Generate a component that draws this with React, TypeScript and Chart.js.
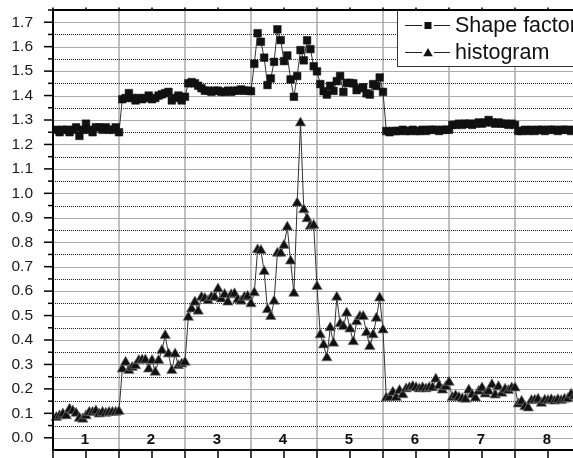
import React, { useEffect, useRef } from "react";
import { Chart, registerables } from "chart.js";

Chart.register(...registerables);

const segmentLabels = ["1", "2", "3", "4", "5", "6", "7", "8"];
const pointsPerSegment = 20;
const yTickValues = [0.0, 0.1, 0.2, 0.3, 0.4, 0.5, 0.6, 0.7, 0.8, 0.9, 1.0, 1.1, 1.2, 1.3, 1.4, 1.5, 1.6, 1.7];
const seriesNames = ["Shape factor", "histogram"];

const shapeFactor = [
  // 1
  1.26, 1.25, 1.26, 1.26, 1.25, 1.26, 1.27, 1.235, 1.26, 1.285, 1.26, 1.25, 1.27, 1.27, 1.26, 1.27, 1.26, 1.26, 1.27, 1.25,
  // 2
  1.385, 1.39, 1.41, 1.39, 1.38, 1.39, 1.385, 1.39, 1.40, 1.385, 1.39, 1.40, 1.405, 1.41, 1.415, 1.38, 1.39, 1.40, 1.38, 1.395,
  // 3
  1.45, 1.455, 1.45, 1.44, 1.43, 1.42, 1.42, 1.415, 1.42, 1.42, 1.415, 1.415, 1.42, 1.415, 1.42, 1.42, 1.425, 1.42, 1.42, 1.418,
  // 4
  1.53, 1.655, 1.62, 1.555, 1.443, 1.47, 1.538, 1.671, 1.627, 1.541, 1.564, 1.466, 1.395, 1.48, 1.586, 1.544, 1.626, 1.59, 1.52, 1.499,
  // 5
  1.447, 1.418, 1.404, 1.44, 1.419, 1.459, 1.48, 1.415, 1.452, 1.452, 1.45, 1.422, 1.43, 1.434, 1.409, 1.404, 1.447, 1.439, 1.474, 1.415,
  // 6
  1.255, 1.25, 1.255, 1.255, 1.255, 1.26, 1.255, 1.255, 1.26, 1.255, 1.255, 1.26, 1.255, 1.26, 1.26, 1.26, 1.255, 1.26, 1.26, 1.26,
  // 7
  1.28, 1.28, 1.285, 1.28, 1.285, 1.285, 1.28, 1.285, 1.29, 1.285, 1.29, 1.30, 1.29, 1.285, 1.29, 1.285, 1.285, 1.28, 1.285, 1.28,
  // 8
  1.255, 1.255, 1.26, 1.255, 1.26, 1.255, 1.26, 1.26, 1.255, 1.26, 1.26, 1.26, 1.255, 1.26, 1.26, 1.26, 1.255, 1.26, 1.26, 1.26,
];

const histogram = [
  // 1
  0.083, 0.09, 0.097, 0.09, 0.117, 0.11, 0.1, 0.08, 0.076, 0.09, 0.104, 0.104, 0.11, 0.097, 0.104, 0.1, 0.104, 0.104, 0.104, 0.108,
  // 2
  0.281, 0.309, 0.275, 0.288, 0.295, 0.316, 0.318, 0.318, 0.281, 0.316, 0.268, 0.316, 0.357, 0.418, 0.343, 0.275, 0.343, 0.295, 0.302, 0.309,
  // 3
  0.493, 0.527, 0.555, 0.518, 0.575, 0.57, 0.561, 0.575, 0.575, 0.609, 0.568, 0.586, 0.555, 0.585, 0.589, 0.565, 0.559, 0.575, 0.579, 0.548,
  // 4
  0.593, 0.769, 0.766, 0.68, 0.524, 0.496, 0.559, 0.755, 0.755, 0.787, 0.862, 0.723, 0.591, 0.96, 1.288, 0.933, 0.896, 0.865, 0.869, 0.619,
  // 5
  0.421, 0.38, 0.327, 0.45, 0.387, 0.575, 0.466, 0.455, 0.51, 0.445, 0.393, 0.475, 0.496, 0.496, 0.43, 0.373, 0.421, 0.489, 0.572, 0.441,
  // 6
  0.163, 0.165, 0.186, 0.165, 0.193, 0.176, 0.2, 0.205, 0.21, 0.205, 0.2, 0.205, 0.2, 0.205, 0.205, 0.24, 0.213, 0.195, 0.209, 0.227,
  // 7
  0.165, 0.172, 0.165, 0.16, 0.158, 0.195, 0.176, 0.163, 0.19, 0.204, 0.179, 0.19, 0.217, 0.175, 0.209, 0.182, 0.199, 0.193, 0.204, 0.204,
  // 8
  0.138, 0.149, 0.127, 0.122, 0.152, 0.154, 0.158, 0.141, 0.154, 0.152, 0.156, 0.15, 0.156, 0.152, 0.158, 0.16, 0.178, 0.17, 0.17, 0.17,
];

const FONT = "'Liberation Sans', Arial, Helvetica, sans-serif";

const toPoints = (arr: number[]) => arr.map((v, i) => ({ x: (i + 1) / pointsPerSegment, y: v }));

function drawSquare(ctx: CanvasRenderingContext2D, x: number, y: number, s: number) {
  ctx.fillStyle = "#111";
  ctx.fillRect(x - s / 2, y - s / 2, s, s);
}
function drawTriangle(ctx: CanvasRenderingContext2D, x: number, y: number, r: number) {
  ctx.fillStyle = "#111";
  ctx.beginPath();
  ctx.moveTo(x, y - r);
  ctx.lineTo(x + r * 0.866, y + r * 0.5);
  ctx.lineTo(x - r * 0.866, y + r * 0.5);
  ctx.closePath();
  ctx.fill();
}

const decor = {
  id: "decor",
  beforeDatasetsDraw(chart: any) {
    const { ctx, chartArea, scales } = chart;
    const { left, right, top, bottom } = chartArea;
    const x = scales.x;
    const y = scales.y;
    ctx.save();
    // vertical segment boundaries
    ctx.strokeStyle = "#aaaaaa";
    ctx.lineWidth = 1.5;
    for (let k = 1; k <= segmentLabels.length; k++) {
      const px = x.getPixelForValue(k);
      ctx.beginPath();
      ctx.moveTo(px, top);
      ctx.lineTo(px, bottom);
      ctx.stroke();
    }
    // solid horizontal lines
    ctx.lineWidth = 1.2;
    yTickValues.forEach((v) => {
      const py = Math.round(y.getPixelForValue(v)) + 0.5;
      ctx.beginPath();
      ctx.moveTo(left, py);
      ctx.lineTo(right, py);
      ctx.stroke();
    });
    // dotted half lines
    ctx.strokeStyle = "#222";
    ctx.lineWidth = 1;
    ctx.setLineDash([1, 1]);
    yTickValues.forEach((v) => {
      const hv = v + 0.05;
      if (hv >= y.max - 1e-6) return;
      const py = Math.round(y.getPixelForValue(hv)) + 0.5;
      ctx.beginPath();
      ctx.moveTo(left, py);
      ctx.lineTo(right, py);
      ctx.stroke();
    });
    ctx.restore();
  },
  afterDatasetsDraw(chart: any) {
    const { ctx, chartArea, scales } = chart;
    const { left, right, top, bottom } = chartArea;
    const x = scales.x;
    const y = scales.y;
    ctx.save();

    // segment labels inside plot
    ctx.fillStyle = "#111";
    ctx.font = `bold 15px ${FONT}`;
    ctx.textAlign = "center";
    ctx.textBaseline = "middle";
    segmentLabels.forEach((lab, k) => {
      ctx.fillText(lab, x.getPixelForValue(k + 0.5) - 1, bottom - 10);
    });

    // legend
    const lx = 397;
    const ly = top;
    ctx.fillStyle = "#fff";
    ctx.fillRect(lx, ly, 400, 56);
    ctx.strokeStyle = "#333";
    ctx.lineWidth = 1;
    ctx.strokeRect(lx + 0.5, ly + 0.5, 400, 56);
    const rows = [ly + 15, ly + 42];
    seriesNames.forEach((name, i) => {
      const ry = rows[i];
      ctx.strokeStyle = "#222";
      ctx.lineWidth = 1;
      ctx.beginPath();
      ctx.moveTo(lx + 8, ry + 0.5);
      ctx.lineTo(lx + 25, ry + 0.5);
      ctx.moveTo(lx + 37, ry + 0.5);
      ctx.lineTo(lx + 53, ry + 0.5);
      ctx.stroke();
      if (i === 0) drawSquare(ctx, lx + 31, ry + 0.5, 7);
      else drawTriangle(ctx, lx + 31, ry + 1.5, 5.5);
      ctx.fillStyle = "#111";
      ctx.font = `21.5px ${FONT}`;
      ctx.textAlign = "left";
      ctx.textBaseline = "alphabetic";
      ctx.fillText(name, lx + 58, ry + 6.5);
    });

    // axes
    ctx.strokeStyle = "#000";
    ctx.lineWidth = 2;
    ctx.beginPath();
    ctx.moveTo(left, top);
    ctx.lineTo(right + 20, top);
    ctx.moveTo(left, top);
    ctx.lineTo(left, bottom);
    ctx.lineTo(right + 20, bottom);
    ctx.stroke();

    // y ticks
    ctx.lineWidth = 1.5;
    yTickValues.forEach((v) => {
      const py = y.getPixelForValue(v);
      ctx.beginPath();
      ctx.moveTo(left - 9, py);
      ctx.lineTo(left, py);
      ctx.stroke();
      const hp = y.getPixelForValue(v + 0.05);
      ctx.beginPath();
      ctx.moveTo(left - 5, hp);
      ctx.lineTo(left, hp);
      ctx.stroke();
    });
    // x ticks
    for (let k = 0; k <= segmentLabels.length; k++) {
      [k, k + 0.5].forEach((v) => {
        const px = x.getPixelForValue(v);
        ctx.beginPath();
        ctx.moveTo(px, bottom);
        ctx.lineTo(px, bottom + 8);
        ctx.stroke();
        ctx.beginPath();
        ctx.moveTo(px, top);
        ctx.lineTo(px, top - 2.5);
        ctx.stroke();
      });
    }
    ctx.restore();
  },
};

export default function App() {
  const ref = useRef<HTMLCanvasElement | null>(null);
  useEffect(() => {
    if (!ref.current) return;
    const chart = new Chart(ref.current, {
      type: "line",
      data: {
        datasets: [
          {
            label: seriesNames[0],
            data: toPoints(shapeFactor),
            borderColor: "#333",
            borderWidth: 1,
            pointStyle: "rect",
            pointRadius: 5.4,
            pointBackgroundColor: "#111",
            pointBorderColor: "#111",
            pointBorderWidth: 0.5,
            tension: 0,
            clip: false,
          } as any,
          {
            label: seriesNames[1],
            data: toPoints(histogram),
            borderColor: "#333",
            borderWidth: 1,
            pointStyle: "triangle",
            pointRadius: 6,
            pointBackgroundColor: "#111",
            pointBorderColor: "#777",
            pointBorderWidth: 0.7,
            tension: 0,
            clip: false,
          } as any,
        ],
      },
      options: {
        responsive: false,
        animation: false,
        events: [],
        layout: { padding: { top: 10, right: 19, left: 0, bottom: 0 } },
        plugins: { legend: { display: false }, tooltip: { enabled: false } },
        scales: {
          x: {
            type: "linear",
            min: 0,
            max: segmentLabels.length,
            grid: { display: false, drawTicks: false },
            border: { display: false },
            ticks: { display: false },
            afterFit: (s: any) => {
              s.height = 8;
              s.paddingLeft = 0;
              s.paddingRight = 0;
              s.paddingTop = 0;
              s.paddingBottom = 0;
            },
          },
          y: {
            type: "linear",
            min: -0.05,
            max: 1.75,
            grid: { display: false, drawTicks: false },
            border: { display: false },
            afterBuildTicks: (s: any) => {
              s.ticks = yTickValues.map((v) => ({ value: v }));
            },
            ticks: {
              padding: 20,
              color: "#1a1a1a",
              font: { family: FONT, size: 15.5 },
              callback: (v: any) => Number(v).toFixed(1),
            },
            afterFit: (s: any) => {
              s.width = 53;
              s.paddingTop = 0;
              s.paddingBottom = 0;
              s.paddingLeft = 0;
              s.paddingRight = 0;
            },
          },
        },
      },
      plugins: [decor],
    });
    return () => chart.destroy();
  }, []);
  return (
    <div style={{ position: "absolute", left: 0, top: 0, width: 573, height: 458, overflow: "hidden", background: "#fff" }}>
      <canvas ref={ref} width={600} height={458} style={{ display: "block", width: 600, height: 458 }} />
    </div>
  );
}
